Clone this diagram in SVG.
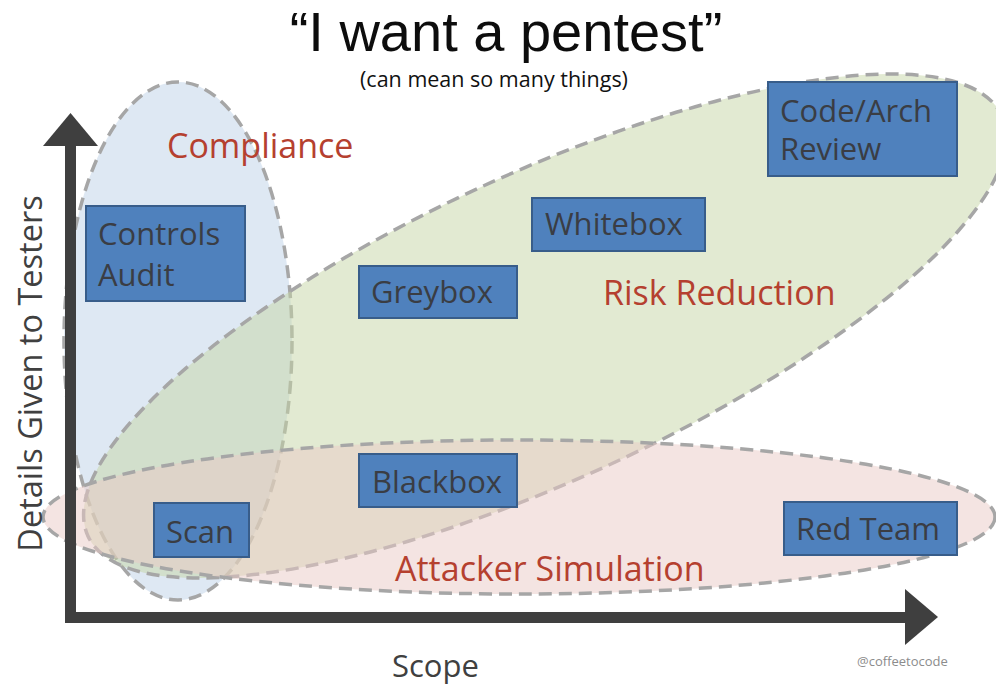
<svg xmlns="http://www.w3.org/2000/svg" width="996" height="688" viewBox="0 0 996 688">
  <style>
    text { font-family: "Open Sans", "Noto Sans", "Liberation Sans", sans-serif; }
    .region { stroke: #a6a6a6; stroke-width: 3.5; stroke-dasharray: 13 7; }
    .box { fill: #4f81bd; stroke: #385d8a; stroke-width: 2; }
    .boxtxt { font-size: 31px; fill: #3a3d44; }
    .lbl { font-size: 34px; fill: #b5402f; }
    .axis { fill: #3f3f3f; }
    .axtxt { fill: #404040; }
  </style>
  <rect width="996" height="688" fill="#ffffff"/>

  <g id="title">
    <text x="506" y="51" text-anchor="middle" font-size="56" fill="#0d0d0d" style="font-family: 'Liberation Sans', Arial, sans-serif;">“I want a pentest”</text>
    <text x="494" y="87" text-anchor="middle" font-size="21.5" fill="#111111">(can mean so many things)</text>
  </g>

  <g id="compliance">
    <ellipse class="region" cx="178" cy="341" rx="114" ry="259" fill="#bdd1e7" fill-opacity="0.5"/>
    <text class="lbl" x="167" y="158">Compliance</text>
  </g>

  <g id="risk-reduction">
    <ellipse class="region" cx="0" cy="0" rx="503" ry="153" transform="translate(545,326) rotate(-24.7)" fill="#c5d5a5" fill-opacity="0.5"/>
    <text class="lbl" x="603" y="305">Risk Reduction</text>
  </g>

  <g id="attacker-simulation">
    <ellipse class="region" cx="519" cy="517" rx="476" ry="77" fill="#e9c9c5" fill-opacity="0.5"/>
    <text class="lbl" x="395" y="581">Attacker Simulation</text>
  </g>

  <g id="axes">
    <rect class="axis" x="65" y="140" width="11" height="482"/>
    <polygon class="axis" points="43,146 98,146 70.5,113"/>
    <rect class="axis" x="65" y="612" width="845" height="11"/>
    <polygon class="axis" points="905,589 905,645 938,617"/>
  </g>

  <g id="controls-audit">
    <rect class="box" x="86" y="206" width="159" height="95"/>
    <text class="boxtxt" x="98" y="245">Controls</text>
    <text class="boxtxt" x="98" y="286">Audit</text>
  </g>

  <g id="code-arch-review">
    <rect class="box" x="768" y="82" width="189" height="94"/>
    <text class="boxtxt" x="780" y="122">Code/Arch</text>
    <text class="boxtxt" x="780" y="160">Review</text>
  </g>

  <g id="whitebox">
    <rect class="box" x="532" y="198" width="173" height="53"/>
    <text class="boxtxt" x="545" y="235">Whitebox</text>
  </g>

  <g id="greybox">
    <rect class="box" x="359" y="266" width="158" height="52"/>
    <text class="boxtxt" x="371" y="303">Greybox</text>
  </g>

  <g id="blackbox">
    <rect class="box" x="359" y="454" width="158" height="53"/>
    <text class="boxtxt" x="372" y="493">Blackbox</text>
  </g>

  <g id="scan">
    <rect class="box" x="154" y="503" width="95" height="54"/>
    <text class="boxtxt" x="166" y="543">Scan</text>
  </g>

  <g id="red-team">
    <rect class="box" x="784" y="502" width="173" height="53"/>
    <text class="boxtxt" x="796" y="540">Red Team</text>
  </g>

  <g id="axis-labels">
    <text class="axtxt" transform="translate(42,373.5) rotate(-90)" text-anchor="middle" font-size="32.5">Details Given to Testers</text>
    <text class="axtxt" x="392" y="677" font-size="31">Scope</text>
    <text x="857" y="666" font-size="13" fill="#8c8c8c">@coffeetocode</text>
  </g>
</svg>
